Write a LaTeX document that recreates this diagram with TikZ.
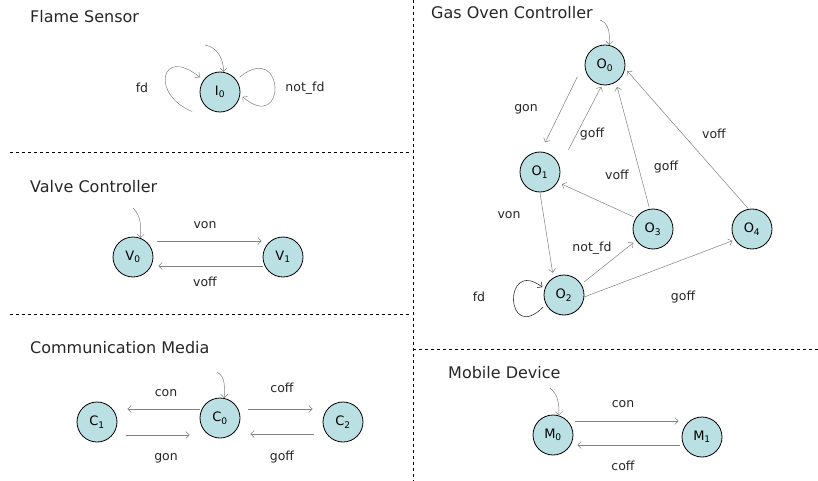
\documentclass[tikz,border=0pt]{standalone}
\usepackage{fontspec}
\setmainfont{DejaVu Sans}
\usetikzlibrary{arrows.meta}
\definecolor{stfill}{RGB}{186,224,227}

\begin{document}
\begin{tikzpicture}
[every node/.style={inner sep=0pt},
 >={Straight Barb[length=3.5pt, width=7pt]},
 stnode/.style={circle, minimum size=40pt, fill=stfill, line width=0.8pt, draw=black, font=\fontsize{13}{15}\selectfont},
 tr/.style={line width=0.5pt, ->, color=gray},
 selfdark/.style={line width=0.6pt, ->, color=black!80},
 lbl/.style={font=\fontsize{12.5}{14}\selectfont, text=black!85},
 title/.style={anchor=west, font=\fontsize{16}{19}\selectfont, text=black!85},
 sep/.style={line width=0.6pt, dash pattern=on 3pt off 3pt}]
\useasboundingbox (0pt,0pt) rectangle (818pt,-481pt);

% separators
\draw [sep] (10pt,-152pt) -- (410pt,-152pt);
\draw [sep] (10pt,-314pt) -- (410pt,-314pt);
\draw [sep] (413pt,0pt) -- (413pt,-481pt);
\draw [sep] (413pt,-349pt) -- (818pt,-349pt);

% Flame Sensor
\node (fstitle) [title] at (30pt,-17pt) {Flame Sensor};
\node (I0) [stnode] at (220pt,-92pt) {I\textsubscript{0}};
\coordinate (I0init) at (205pt,-45pt);
\draw [tr] (I0init) to [out=-10, in=90] (I0.80);
\draw [tr] ([shift={(215:34pt)}]I0.center) .. controls +(-42pt,17pt) and +(-39pt,32pt) .. ([shift={(144:25pt)}]I0.center);
\draw [tr] ([shift={(37:25pt)}]I0.center) .. controls +(45pt,37pt) and +(45pt,-38pt) .. ([shift={(348:23pt)}]I0.center);
\node (fdlbl) [lbl] at (142pt,-88pt) {fd};
\node (notfdlbl) [lbl] at (305pt,-88pt) {not\_fd};

% Valve Controller
\node (vctitle) [title] at (30pt,-187pt) {Valve Controller};
\node (V0) [stnode] at (133pt,-257pt) {V\textsubscript{0}};
\node (V1) [stnode] at (283pt,-257pt) {V\textsubscript{1}};
\coordinate (V0init) at (133pt,-208pt);
\draw [tr] (V0init) to [out=-45, in=90] (V0.68);
\draw [tr] ([shift={(4pt,16pt)}]V0.east) -- ([shift={(-1pt,16pt)}]V1.west);
\draw [tr] ([shift={(0pt,-9pt)}]V1.west) -- ([shift={(5pt,-9pt)}]V0.east);
\node (vonlbl) [lbl] at (205pt,-225pt) {von};
\node (vofflbl) [lbl] at (205pt,-282pt) {voff};

% Communication Media
\node (cmtitle) [title] at (30pt,-348pt) {Communication Media};
\node (C1) [stnode] at (97pt,-422pt) {C\textsubscript{1}};
\node (C0) [stnode] at (220pt,-418pt) {C\textsubscript{0}};
\node (C2) [stnode] at (343pt,-422pt) {C\textsubscript{2}};
\coordinate (C0init) at (217pt,-372pt);
\draw [tr] (C0init) to [out=-30, in=90] (C0.78);
\draw [tr] ([yshift=9pt]C0.west) -- ([shift={(10pt,13pt)}]C1.east);
\draw [tr] ([shift={(9pt,-13pt)}]C1.east) -- ([shift={(-10pt,-17pt)}]C0.west);
\draw [tr] ([shift={(8pt,9pt)}]C0.east) -- ([shift={(-10pt,13pt)}]C2.west);
\draw [tr] ([shift={(-9pt,-12pt)}]C2.west) -- ([shift={(10pt,-16pt)}]C0.east);
\node (conlbl) [lbl] at (166pt,-393pt) {con};
\node (gonlbl) [lbl] at (166pt,-458pt) {gon};
\node (cofflbl) [lbl] at (282pt,-388pt) {coff};
\node (gofflbl) [lbl] at (282pt,-457pt) {goff};

% Gas Oven Controller
\node (gotitle) [title] at (431pt,-13pt) {Gas Oven Controller};
\node (O0) [stnode] at (605pt,-65pt) {O\textsubscript{0}};
\node (O1) [stnode] at (540pt,-172pt) {O\textsubscript{1}};
\node (O2) [stnode] at (564pt,-295pt) {O\textsubscript{2}};
\node (O3) [stnode] at (653pt,-229pt) {O\textsubscript{3}};
\node (O4) [stnode] at (752pt,-229pt) {O\textsubscript{4}};
\coordinate (O0init) at (600pt,-20pt);
\draw [tr] (O0init) to [out=-20, in=90] (O0.77);
\draw [tr] ([shift={(203:30pt)}]O0.center) -- ([shift={(80:30pt)}]O1.center);
\draw [tr] ([shift={(38:36pt)}]O1.center) -- ([shift={(260:22pt)}]O0.center);
\draw [tr] ([shift={(100:22pt)}]O3.center) -- ([shift={(299:25pt)}]O0.center);
\draw [tr] ([shift={(101:21pt)}]O4.center) -- ([shift={(345:23pt)}]O0.center);
\draw [tr] ([shift={(148:23pt)}]O3.center) -- ([shift={(331:25pt)}]O1.center);
\draw [tr] ([shift={(270:21pt)}]O1.center) -- ([shift={(117:25pt)}]O2.center);
\draw [tr] ([shift={(33:24pt)}]O2.center) -- ([shift={(215:24pt)}]O3.center);
\draw [tr] ([shift={(354:20pt)}]O2.center) -- ([shift={(211:23pt)}]O4.center);
\draw [selfdark] ([shift={(210:24pt)}]O2.center) .. controls +(-38pt,-38pt) and +(-40pt,30pt) .. ([shift={(160:23pt)}]O2.center);
\node (ogonlbl) [lbl] at (526pt,-109pt) {gon};
\node (ogoffalbl) [lbl] at (592pt,-134pt) {goff};
\node (ovoffalbl) [lbl] at (714pt,-134pt) {voff};
\node (ogoffblbl) [lbl] at (666pt,-167pt) {goff};
\node (ovoffblbl) [lbl] at (617pt,-175pt) {voff};
\node (ovonlbl) [lbl] at (509pt,-215pt) {von};
\node (onotfdlbl) [lbl] at (592pt,-248pt) {not\_fd};
\node (ofdlbl) [lbl] at (479pt,-297pt) {fd};
\node (ogoffclbl) [lbl] at (683pt,-297pt) {goff};

% Mobile Device
\node (mdtitle) [title] at (448pt,-373pt) {Mobile Device};
\node (M0) [stnode] at (553pt,-435pt) {M\textsubscript{0}};
\node (M1) [stnode] at (702pt,-437pt) {M\textsubscript{1}};
\coordinate (M0init) at (550pt,-388pt);
\draw [tr] (M0init) to [out=-40, in=90] (M0.73);
\draw [tr] ([shift={(2pt,14pt)}]M0.east) -- ([shift={(-3pt,16pt)}]M1.west);
\draw [tr] ([shift={(-2pt,-8pt)}]M1.west) -- ([shift={(4pt,-10pt)}]M0.east);
\node (mconlbl) [lbl] at (623pt,-404pt) {con};
\node (mcofflbl) [lbl] at (623pt,-466pt) {coff};

\end{tikzpicture}
\end{document}
